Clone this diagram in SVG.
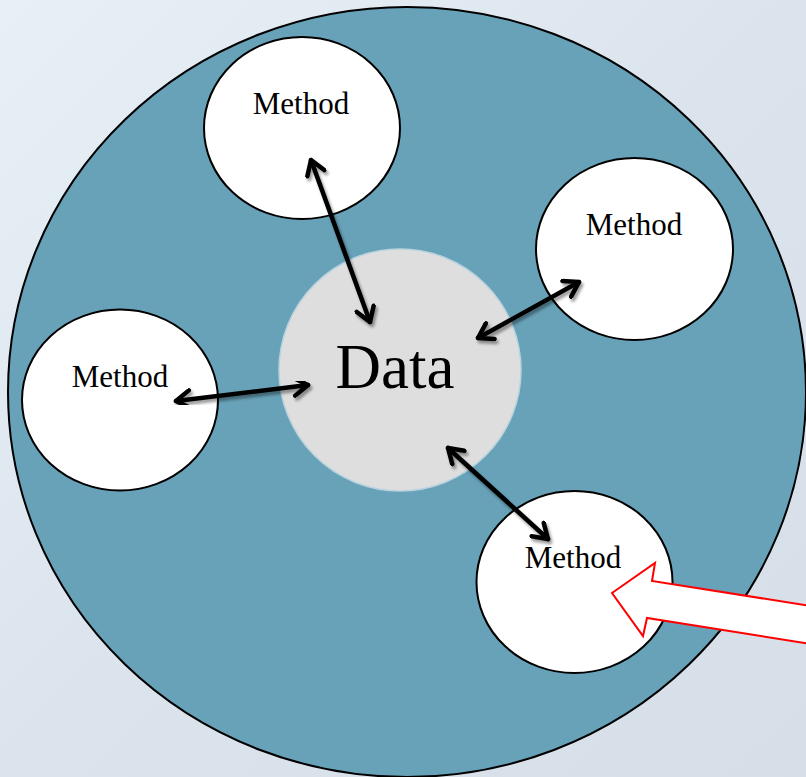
<svg xmlns="http://www.w3.org/2000/svg" width="806" height="777" viewBox="0 0 806 777">
<style>
.m{fill:#fff;stroke:#000;stroke-width:2}
.t{font-family:"Liberation Serif","Times New Roman",serif;fill:#000;text-anchor:middle}
.c{fill:none;stroke:#000;stroke-width:4.5;stroke-linecap:round;filter:url(#sh)}
</style>
<defs>
<linearGradient id="bg" x1="0" y1="0" x2="1" y2="1">
<stop offset="0" stop-color="#e8f0f7"/>
<stop offset="0.5" stop-color="#dbe3ec"/>
<stop offset="1" stop-color="#d6dee8"/>
</linearGradient>
<filter id="sh" x="-20%" y="-20%" width="140%" height="140%">
<feGaussianBlur in="SourceAlpha" stdDeviation="1.5"/>
<feOffset dx="2" dy="3" result="b"/>
<feComponentTransfer><feFuncA type="linear" slope="0.4"/></feComponentTransfer>
<feMerge><feMergeNode/><feMergeNode in="SourceGraphic"/></feMerge>
</filter>
<marker id="h" viewBox="0 0 22 22" refX="18" refY="11" markerWidth="22" markerHeight="22" markerUnits="userSpaceOnUse" orient="auto-start-reverse">
<polyline points="4,2 18,11 4,20" fill="none" stroke="#000" stroke-width="4.5" stroke-linecap="round" stroke-linejoin="round"/>
</marker>
</defs>
<rect width="806" height="777" fill="url(#bg)"/>
<g id="outer"><ellipse cx="407" cy="392" rx="399" ry="385" fill="#68a2b8" stroke="#000" stroke-width="2"/></g>
<g id="data"><circle cx="400" cy="370" r="121" fill="#dedede" stroke="#b9d3de" stroke-width="1.5"/><text class="t" x="395" y="388" font-size="63">Data</text></g>
<g id="m1"><ellipse class="m" cx="302" cy="128" rx="98" ry="91"/><text class="t" x="301" y="114" font-size="31">Method</text></g>
<g id="m2"><ellipse class="m" cx="634.5" cy="249" rx="98.5" ry="91"/><text class="t" x="634" y="235" font-size="31">Method</text></g>
<g id="m3"><ellipse class="m" cx="120" cy="400" rx="98" ry="90.5"/><text class="t" x="120" y="387" font-size="31">Method</text></g>
<g id="m4"><ellipse class="m" cx="574.5" cy="582" rx="98" ry="91"/><text class="t" x="573" y="568" font-size="31">Method</text></g>
<g id="connectors">
<line class="c" x1="311" y1="160" x2="370" y2="322" marker-start="url(#h)" marker-end="url(#h)"/>
<line class="c" x1="579" y1="282" x2="478" y2="338" marker-start="url(#h)" marker-end="url(#h)"/>
<line class="c" x1="176" y1="401" x2="308" y2="385" marker-start="url(#h)" marker-end="url(#h)"/>
<line class="c" x1="448" y1="448" x2="548" y2="539" marker-start="url(#h)" marker-end="url(#h)"/>
</g>
<g id="pointer"><polygon points="612,593 655,563 652,581 830,609 830,647 647,618 643,636" fill="#fff" stroke="#ff0000" stroke-width="2" stroke-linejoin="miter"/></g>
</svg>
